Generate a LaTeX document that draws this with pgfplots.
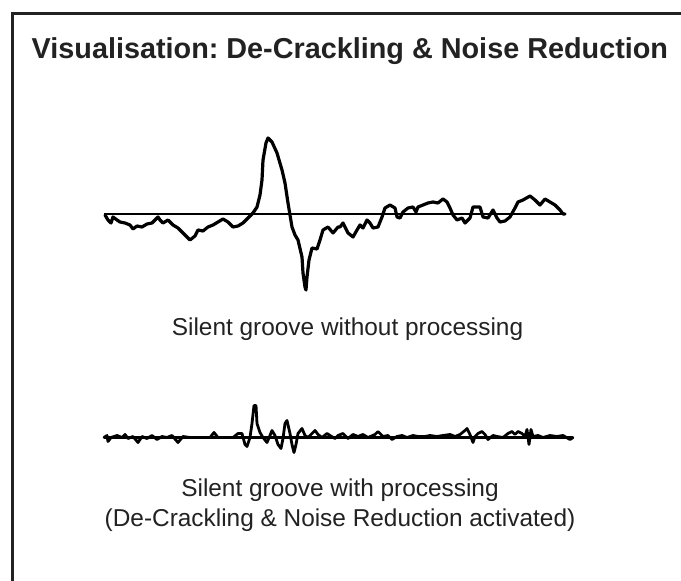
\documentclass[border=0pt]{standalone}
\usepackage{pgfplots}
\pgfplotsset{compat=1.18}
\usepackage{fontspec}
\setmainfont{Liberation Sans}
\definecolor{framegray}{HTML}{222222}
\definecolor{textgray}{HTML}{222222}
\begin{document}
\frenchspacing
\begin{tikzpicture}[x=1pt,y=1pt]
\useasboundingbox (0,0) rectangle (681,-581);
\fill[white] (0,0) rectangle (681,-581);
\draw[line width=3pt, color=framegray] (682,-13) -- (12,-13) -- (12,-583);
\node[anchor=base west, inner sep=0pt, text=textgray, font=\bfseries\fontsize{28.8}{32}\selectfont] at (31.5pt,-58.3pt) {Visualisation: De-Crackling \& Noise Reduction};

% waveform without processing
\begin{axis}[at={(104pt,-294pt)}, anchor=south west, scale only axis,
  width=461pt, height=160pt, hide axis, clip=false,
  xmin=104, xmax=565, ymin=-80, ymax=80]
\addplot[black, line width=2.8pt, line cap=butt] coordinates {(104,0) (565,0)};
\addplot[black, line width=3.2pt, line join=round, line cap=round] coordinates {
(105,-1) (108,-6) (111,-9) (113,-3) (117,-6) (120,-8) (125,-9) (130,-11) (133,-15) (137,-12) (142,-13) (147,-10) (152,-9) (157,-4) (158,-3) (160,-6) (163,-9) (168,-6) (173,-11) (178,-14) (183,-19) (190,-26) (195,-22) (198,-16) (203,-17) (208,-13) (213,-11) (218,-8) (223,-5) (228,-8) (233,-13) (238,-12) (243,-9) (247,-5) (250,-2) (253,1) (257,7) (260,19) (262,34) (263,54) (266,71) (268,76) (272,72) (277,61) (282,44) (285,31) (288,11) (290,-1) (292,-13) (295,-21) (298,-26) (302,-43) (303,-59) (305,-73) (306,-76) (307,-63) (309,-46) (312,-34) (317,-35) (320,-26) (323,-16) (328,-13) (333,-19) (338,-13)
(340,-13) (343,-9) (348,-19) (353,-23) (357,-16) (360,-11) (363,-14) (367,-6) (370,-9) (373,-14) (378,-13) (382,-3) (385,6) (390,9) (395,6) (397,-3) (400,-4) (403,2) (408,6) (413,7) (416,2) (418,7) (423,9) (428,11) (433,12) (438,11) (443,15) (447,12) (450,6) (453,-1) (457,-6) (462,-4) (465,-9) (470,-4) (473,7) (480,7) (483,-3) (488,-4) (493,4) (497,-4) (500,-8) (505,-7) (510,-3) (515,6) (518,12) (523,14) (530,18) (535,14) (540,9) (545,15) (550,12) (555,9) (560,4) (563,0) (565,0)};
\end{axis}

% waveform with processing
\begin{axis}[at={(104pt,-477.5pt)}, anchor=south west, scale only axis,
  width=469pt, height=80pt, hide axis, clip=false,
  xmin=104, xmax=573, ymin=-40, ymax=40]
\addplot[black, line width=2.8pt, line cap=butt] coordinates {(104,0) (573,0)};
\addplot[black, line width=2.8pt, line join=round, line cap=round] coordinates {
(104,0) (107,2) (108,-4) (111,0) (117,2) (122,0) (125,3) (128,-1) (133,1) (138,-5) (142,1) (147,-1) (152,2) (157,-2) (162,1) (167,0) (172,2) (178,-5) (183,1) (190,0) (210,0) (214,5) (218,0) (233,0) (238,4) (242,4) (245,-7) (247,-9) (250,0) (252,14) (254,32) (256,32) (257,14) (260,5) (263,0) (267,-5) (270,2) (272,7) (275,2) (278,-7) (281,-11) (283,-1) (285,14) (287,17) (290,4) (292,-7) (294,-15) (296,-7) (298,4) (302,9) (305,2) (308,0) (312,4) (315,7) (318,3) (322,0) (327,4) (330,2) (335,-1) (338,2)
(343,4) (348,-1) (353,3) (358,1) (363,3) (368,0) (375,3) (378,6) (383,1) (388,2) (392,-2) (397,1) (402,2) (407,0) (413,2) (418,1) (425,1) (430,2) (437,1) (443,2) (450,3) (455,1) (460,3) (465,7) (467,9) (470,3) (473,-5) (475,1) (478,4) (482,6) (485,3) (488,-2) (493,2) (497,1) (503,0) (508,4) (512,6) (515,3) (518,6) (522,4) (525,1) (527,8) (529,-7) (531,8) (533,1) (538,2) (543,0) (550,2) (557,1) (563,2) (570,-2) (573,0)};
\end{axis}

\node[anchor=base, inner sep=0pt, text=textgray, font=\fontsize{24.4}{30}\selectfont] at (347.5pt,-335.7pt) {Silent groove without processing};
\node[anchor=base, inner sep=0pt, text=textgray, font=\fontsize{24.4}{30}\selectfont] at (340pt,-496.5pt) {Silent groove with processing};
\node[anchor=base, inner sep=0pt, text=textgray, font=\fontsize{24.4}{30}\selectfont] at (340pt,-526.5pt) {(De-Crackling \& Noise Reduction activated)};
\end{tikzpicture}
\end{document}
